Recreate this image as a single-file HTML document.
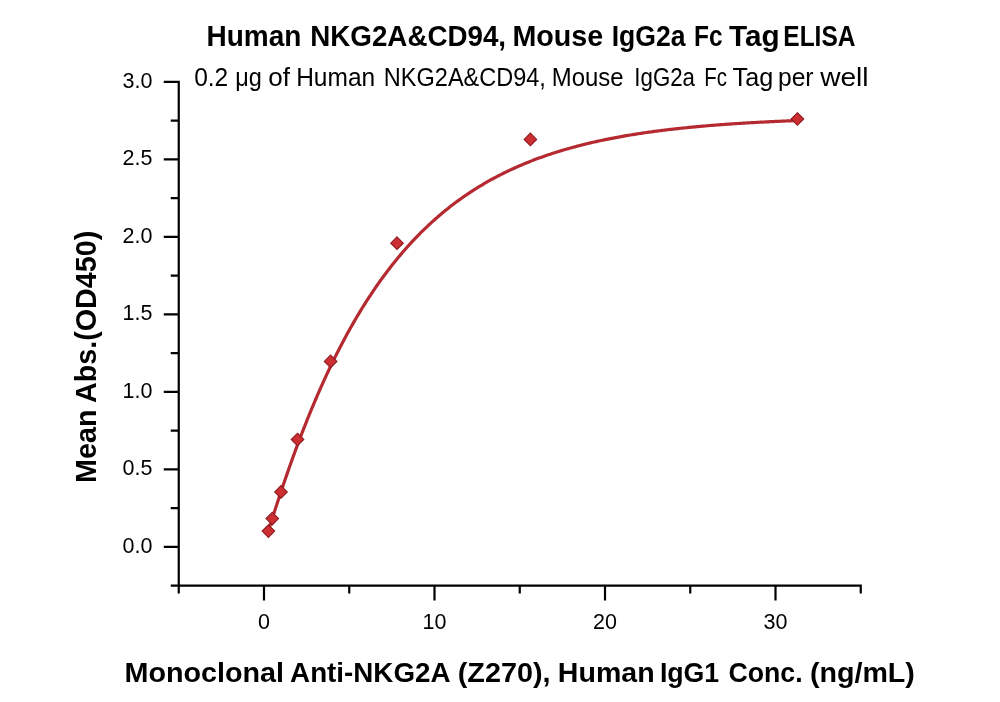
<!DOCTYPE html>
<html><head><meta charset="utf-8"><style>
html,body{margin:0;padding:0;background:#fff;}
body{width:1000px;height:702px;overflow:hidden;}
svg{display:block;will-change:transform;}
text{font-family:"Liberation Sans",sans-serif;fill:#000;}
.tk{font-size:21.5px;}
.ttl{font-size:29px;font-weight:bold;}
.sub{font-size:25.5px;}
.xl{font-size:28px;font-weight:bold;}
.yl{font-size:29px;font-weight:bold;}
</style></head><body>
<svg width="1000" height="702" viewBox="0 0 1000 702">
<path d="M178.75 80.70V593.55M170.75 585.55H861.85M163.75 546.80H178.75M163.75 469.30H178.75M163.75 391.80H178.75M163.75 314.30H178.75M163.75 236.80H178.75M163.75 159.30H178.75M163.75 81.80H178.75M170.75 508.05H178.75M170.75 430.55H178.75M170.75 353.05H178.75M170.75 275.55H178.75M170.75 198.05H178.75M170.75 120.55H178.75M264.00 585.55V600.55M434.50 585.55V600.55M605.00 585.55V600.55M775.50 585.55V600.55M349.25 585.55V593.55M519.75 585.55V593.55M690.25 585.55V593.55M860.75 585.55V593.55" stroke="#000" stroke-width="2.2" fill="none" stroke-linecap="butt"/>
<text x="152.5" y="552.80" text-anchor="end" class="tk">0.0</text>
<text x="152.5" y="475.30" text-anchor="end" class="tk">0.5</text>
<text x="152.5" y="397.80" text-anchor="end" class="tk">1.0</text>
<text x="152.5" y="320.30" text-anchor="end" class="tk">1.5</text>
<text x="152.5" y="242.80" text-anchor="end" class="tk">2.0</text>
<text x="152.5" y="165.30" text-anchor="end" class="tk">2.5</text>
<text x="152.5" y="87.80" text-anchor="end" class="tk">3.0</text>
<text x="264.00" y="629.2" text-anchor="middle" class="tk">0</text>
<text x="434.50" y="629.2" text-anchor="middle" class="tk">10</text>
<text x="605.00" y="629.2" text-anchor="middle" class="tk">20</text>
<text x="775.50" y="629.2" text-anchor="middle" class="tk">30</text>
<path d="M268.16 531.41 L269.49 527.22 L270.81 523.04 L272.14 518.88 L273.47 514.74 L274.80 510.62 L276.12 506.52 L277.45 502.46 L278.78 498.42 L280.10 494.41 L281.43 490.44 L282.76 486.50 L284.09 482.58 L285.41 478.71 L286.74 474.86 L288.07 471.05 L289.39 467.27 L290.72 463.53 L292.05 459.82 L293.37 456.14 L294.70 452.50 L296.03 448.89 L297.36 445.31 L298.68 441.77 L300.01 438.26 L301.34 434.79 L302.66 431.35 L303.99 427.94 L305.32 424.57 L306.65 421.23 L307.97 417.92 L309.30 414.64 L310.63 411.40 L311.95 408.19 L313.28 405.01 L314.61 401.86 L315.94 398.75 L317.26 395.66 L318.59 392.61 L319.92 389.59 L321.24 386.60 L322.57 383.63 L323.90 380.70 L325.22 377.80 L326.55 374.93 L327.88 372.09 L329.21 369.28 L330.53 366.49 L331.86 363.74 L333.19 361.01 L334.51 358.32 L335.84 355.65 L337.17 353.01 L338.50 350.39 L339.82 347.81 L341.15 345.25 L342.48 342.71 L343.80 340.21 L345.13 337.73 L346.46 335.27 L347.78 332.85 L349.11 330.44 L350.44 328.07 L351.77 325.72 L353.09 323.39 L354.42 321.09 L355.75 318.81 L357.07 316.56 L358.40 314.33 L359.73 312.12 L361.06 309.94 L362.38 307.78 L363.71 305.65 L365.04 303.53 L366.36 301.44 L367.69 299.38 L369.02 297.33 L370.35 295.31 L371.67 293.31 L373.00 291.33 L374.33 289.37 L375.65 287.43 L376.98 285.52 L378.31 283.62 L379.63 281.75 L380.96 279.89 L382.29 278.06 L383.62 276.24 L384.94 274.45 L386.27 272.67 L387.60 270.91 L388.92 269.18 L390.25 267.46 L391.58 265.76 L392.91 264.08 L394.23 262.42 L395.56 260.77 L396.89 259.14 L398.21 257.54 L399.54 255.94 L400.87 254.37 L402.20 252.81 L403.52 251.27 L404.85 249.75 L406.18 248.25 L407.50 246.76 L408.83 245.28 L410.16 243.83 L411.48 242.39 L412.81 240.96 L414.14 239.55 L415.47 238.16 L416.79 236.78 L418.12 235.42 L419.45 234.07 L420.77 232.73 L422.10 231.42 L423.43 230.11 L424.76 228.82 L426.08 227.55 L427.41 226.29 L428.74 225.04 L430.06 223.81 L431.39 222.59 L432.72 221.38 L434.05 220.19 L435.37 219.01 L436.70 217.84 L438.03 216.69 L439.35 215.55 L440.68 214.42 L442.01 213.30 L443.33 212.20 L444.66 211.11 L445.99 210.03 L447.32 208.96 L448.64 207.91 L449.97 206.86 L451.30 205.83 L452.62 204.81 L453.95 203.81 L455.28 202.81 L456.61 201.82 L457.93 200.85 L459.26 199.88 L460.59 198.93 L461.91 197.99 L463.24 197.05 L464.57 196.13 L465.90 195.22 L467.22 194.32 L468.55 193.43 L469.88 192.55 L471.20 191.68 L472.53 190.81 L473.86 189.96 L475.18 189.12 L476.51 188.29 L477.84 187.46 L479.17 186.65 L480.49 185.84 L481.82 185.05 L483.15 184.26 L484.47 183.48 L485.80 182.71 L487.13 181.95 L488.46 181.20 L489.78 180.46 L491.11 179.72 L492.44 178.99 L493.76 178.28 L495.09 177.56 L496.42 176.86 L497.74 176.17 L499.07 175.48 L500.40 174.80 L501.73 174.13 L503.05 173.46 L504.38 172.81 L505.71 172.16 L507.03 171.52 L508.36 170.88 L509.69 170.26 L511.02 169.64 L512.34 169.02 L513.67 168.42 L515.00 167.82 L516.32 167.22 L517.65 166.64 L518.98 166.06 L520.31 165.49 L521.63 164.92 L522.96 164.36 L524.29 163.81 L525.61 163.26 L526.94 162.72 L528.27 162.18 L529.59 161.66 L530.92 161.13 L532.25 160.62 L533.58 160.10 L534.90 159.60 L536.23 159.10 L537.56 158.61 L538.88 158.12 L540.21 157.64 L541.54 157.16 L542.87 156.69 L544.19 156.22 L545.52 155.76 L546.85 155.30 L548.17 154.85 L549.50 154.41 L550.83 153.97 L552.16 153.53 L553.48 153.10 L554.81 152.68 L556.14 152.26 L557.46 151.84 L558.79 151.43 L560.12 151.02 L561.44 150.62 L562.77 150.23 L564.10 149.83 L565.43 149.44 L566.75 149.06 L568.08 148.68 L569.41 148.31 L570.73 147.94 L572.06 147.57 L573.39 147.21 L574.72 146.85 L576.04 146.50 L577.37 146.15 L578.70 145.80 L580.02 145.46 L581.35 145.12 L582.68 144.79 L584.01 144.46 L585.33 144.13 L586.66 143.81 L587.99 143.49 L589.31 143.17 L590.64 142.86 L591.97 142.55 L593.29 142.25 L594.62 141.95 L595.95 141.65 L597.28 141.35 L598.60 141.06 L599.93 140.77 L601.26 140.49 L602.58 140.21 L603.91 139.93 L605.24 139.66 L606.57 139.39 L607.89 139.12 L609.22 138.85 L610.55 138.59 L611.87 138.33 L613.20 138.07 L614.53 137.82 L615.86 137.57 L617.18 137.32 L618.51 137.08 L619.84 136.84 L621.16 136.60 L622.49 136.36 L623.82 136.13 L625.14 135.90 L626.47 135.67 L627.80 135.44 L629.13 135.22 L630.45 135.00 L631.78 134.78 L633.11 134.57 L634.43 134.35 L635.76 134.14 L637.09 133.93 L638.42 133.73 L639.74 133.53 L641.07 133.32 L642.40 133.13 L643.72 132.93 L645.05 132.74 L646.38 132.54 L647.70 132.35 L649.03 132.17 L650.36 131.98 L651.69 131.80 L653.01 131.62 L654.34 131.44 L655.67 131.26 L656.99 131.09 L658.32 130.91 L659.65 130.74 L660.98 130.58 L662.30 130.41 L663.63 130.24 L664.96 130.08 L666.28 129.92 L667.61 129.76 L668.94 129.60 L670.27 129.45 L671.59 129.29 L672.92 129.14 L674.25 128.99 L675.57 128.84 L676.90 128.70 L678.23 128.55 L679.55 128.41 L680.88 128.27 L682.21 128.13 L683.54 127.99 L684.86 127.85 L686.19 127.72 L687.52 127.58 L688.84 127.45 L690.17 127.32 L691.50 127.19 L692.83 127.06 L694.15 126.94 L695.48 126.81 L696.81 126.69 L698.13 126.57 L699.46 126.45 L700.79 126.33 L702.12 126.21 L703.44 126.09 L704.77 125.98 L706.10 125.86 L707.42 125.75 L708.75 125.64 L710.08 125.53 L711.40 125.42 L712.73 125.32 L714.06 125.21 L715.39 125.11 L716.71 125.00 L718.04 124.90 L719.37 124.80 L720.69 124.70 L722.02 124.60 L723.35 124.50 L724.68 124.41 L726.00 124.31 L727.33 124.22 L728.66 124.12 L729.98 124.03 L731.31 123.94 L732.64 123.85 L733.97 123.76 L735.29 123.68 L736.62 123.59 L737.95 123.50 L739.27 123.42 L740.60 123.33 L741.93 123.25 L743.25 123.17 L744.58 123.09 L745.91 123.01 L747.24 122.93 L748.56 122.85 L749.89 122.77 L751.22 122.70 L752.54 122.62 L753.87 122.55 L755.20 122.48 L756.53 122.40 L757.85 122.33 L759.18 122.26 L760.51 122.19 L761.83 122.12 L763.16 122.05 L764.49 121.98 L765.82 121.92 L767.14 121.85 L768.47 121.78 L769.80 121.72 L771.12 121.66 L772.45 121.59 L773.78 121.53 L775.10 121.47 L776.43 121.41 L777.76 121.35 L779.09 121.29 L780.41 121.23 L781.74 121.17 L783.07 121.11 L784.39 121.06 L785.72 121.00 L787.05 120.94 L788.38 120.89 L789.70 120.84 L791.03 120.78 L792.36 120.73 L793.68 120.68 L795.01 120.63 L796.34 120.57 L797.67 120.52" stroke="#b42a30" stroke-width="3.2" fill="none" stroke-linejoin="round"/>
<path d="M268.40 524.80L274.70 531.10L268.40 537.40L262.10 531.10Z" fill="#cc2e32" stroke="#8e1c22" stroke-width="1.1"/>
<path d="M272.30 512.30L278.60 518.60L272.30 524.90L266.00 518.60Z" fill="#cc2e32" stroke="#8e1c22" stroke-width="1.1"/>
<path d="M281.00 485.60L287.30 491.90L281.00 498.20L274.70 491.90Z" fill="#cc2e32" stroke="#8e1c22" stroke-width="1.1"/>
<path d="M297.50 433.20L303.80 439.50L297.50 445.80L291.20 439.50Z" fill="#cc2e32" stroke="#8e1c22" stroke-width="1.1"/>
<path d="M330.60 355.10L336.90 361.40L330.60 367.70L324.30 361.40Z" fill="#cc2e32" stroke="#8e1c22" stroke-width="1.1"/>
<path d="M397.00 236.90L403.30 243.20L397.00 249.50L390.70 243.20Z" fill="#cc2e32" stroke="#8e1c22" stroke-width="1.1"/>
<path d="M530.40 133.10L536.70 139.40L530.40 145.70L524.10 139.40Z" fill="#cc2e32" stroke="#8e1c22" stroke-width="1.1"/>
<path d="M797.40 112.70L803.70 119.00L797.40 125.30L791.10 119.00Z" fill="#cc2e32" stroke="#8e1c22" stroke-width="1.1"/>
<text x="206.47" y="45.5" class="ttl" textLength="94.88" lengthAdjust="spacingAndGlyphs">Human</text>
<text x="310.29" y="45.5" class="ttl" textLength="195.81" lengthAdjust="spacingAndGlyphs">NKG2A&amp;CD94,</text>
<text x="512.42" y="45.5" class="ttl" textLength="90.81" lengthAdjust="spacingAndGlyphs">Mouse</text>
<text x="611.67" y="45.5" class="ttl" textLength="73.86" lengthAdjust="spacingAndGlyphs">IgG2a</text>
<text x="694.11" y="45.5" class="ttl" textLength="28.60" lengthAdjust="spacingAndGlyphs">Fc</text>
<text x="729.00" y="45.5" class="ttl" textLength="50.64" lengthAdjust="spacingAndGlyphs">Tag</text>
<text x="783.31" y="45.5" class="ttl" textLength="72.13" lengthAdjust="spacingAndGlyphs">ELISA</text>
<text x="194.14" y="85.5" class="sub" textLength="34.06" lengthAdjust="spacingAndGlyphs">0.2</text>
<text x="235.26" y="85.5" class="sub" textLength="26.57" lengthAdjust="spacingAndGlyphs">μg</text>
<text x="268.28" y="85.5" class="sub" textLength="21.69" lengthAdjust="spacingAndGlyphs">of</text>
<text x="296.18" y="85.5" class="sub" textLength="78.98" lengthAdjust="spacingAndGlyphs">Human</text>
<text x="383.86" y="85.5" class="sub" textLength="162.06" lengthAdjust="spacingAndGlyphs">NKG2A&amp;CD94,</text>
<text x="551.82" y="85.5" class="sub" textLength="71.79" lengthAdjust="spacingAndGlyphs">Mouse</text>
<text x="634.36" y="85.5" class="sub" textLength="60.58" lengthAdjust="spacingAndGlyphs">IgG2a</text>
<text x="704.20" y="85.5" class="sub" textLength="22.66" lengthAdjust="spacingAndGlyphs">Fc</text>
<text x="732.60" y="85.5" class="sub" textLength="40.61" lengthAdjust="spacingAndGlyphs">Tag</text>
<text x="777.97" y="85.5" class="sub" textLength="35.60" lengthAdjust="spacingAndGlyphs">per</text>
<text x="820.20" y="85.5" class="sub" textLength="48.44" lengthAdjust="spacingAndGlyphs">well</text>
<text x="124.45" y="682.4" class="xl" textLength="159.64" lengthAdjust="spacingAndGlyphs">Monoclonal</text>
<text x="290.11" y="682.4" class="xl" textLength="160.35" lengthAdjust="spacingAndGlyphs">Anti-NKG2A</text>
<text x="457.77" y="682.4" class="xl" textLength="92.81" lengthAdjust="spacingAndGlyphs">(Z270),</text>
<text x="557.86" y="682.4" class="xl" textLength="96.78" lengthAdjust="spacingAndGlyphs">Human</text>
<text x="659.89" y="682.4" class="xl" textLength="59.33" lengthAdjust="spacingAndGlyphs">IgG1</text>
<text x="728.45" y="682.4" class="xl" textLength="74.15" lengthAdjust="spacingAndGlyphs">Conc.</text>
<text x="809.98" y="682.4" class="xl" textLength="104.90" lengthAdjust="spacingAndGlyphs">(ng/mL)</text>
<g transform="translate(96.3 500) rotate(-90)"><text x="17.01" y="0" class="yl" textLength="73.62" lengthAdjust="spacingAndGlyphs">Mean</text><text x="97.01" y="0" class="yl" textLength="172.33" lengthAdjust="spacingAndGlyphs">Abs.(OD450)</text></g>
</svg>
</body></html>
